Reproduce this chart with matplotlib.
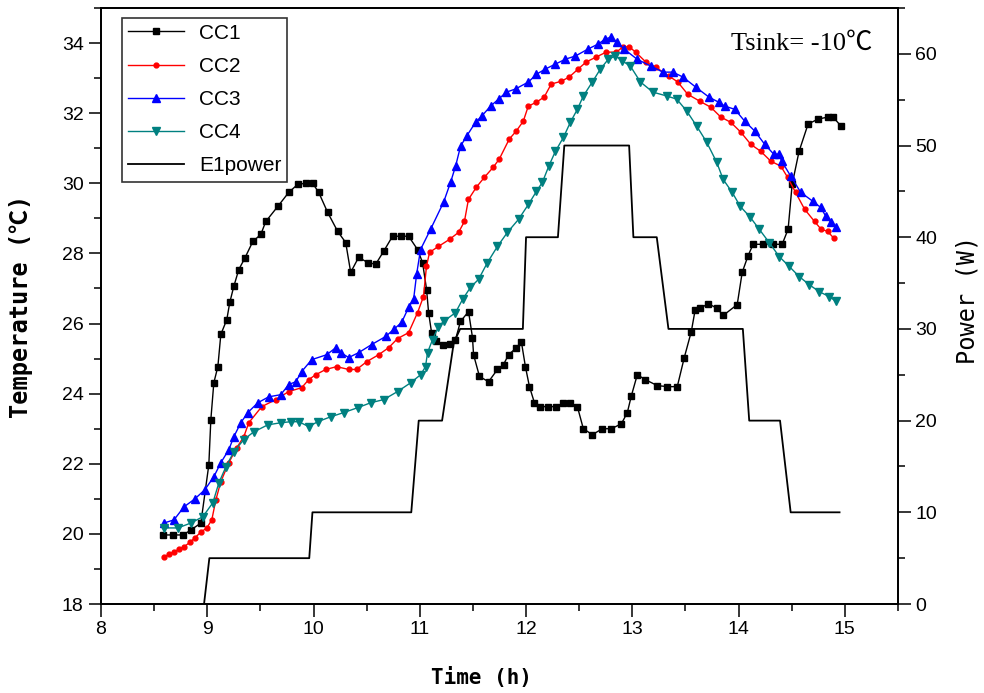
import matplotlib
matplotlib.use("Agg")
from matplotlib import pyplot as plt
from matplotlib.ticker import MultipleLocator

# CC1 thermocouple (black squares)
cc1_t = [8.583, 8.677, 8.771, 8.846, 8.940, 9.015, 9.034, 9.062, 9.100, 9.128,
         9.184, 9.212, 9.250, 9.297, 9.353, 9.429, 9.504, 9.551, 9.664, 9.767,
         9.852, 9.927, 9.992, 10.049, 10.133, 10.227, 10.303, 10.350, 10.425, 10.509,
         10.585, 10.660, 10.744, 10.820, 10.895, 10.979, 11.026, 11.064, 11.083, 11.111,
         11.148, 11.214, 11.280, 11.336, 11.383, 11.459, 11.496, 11.506, 11.562, 11.647,
         11.731, 11.788, 11.835, 11.910, 11.957, 11.994, 12.032, 12.079, 12.135, 12.211,
         12.286, 12.352, 12.417, 12.483, 12.539, 12.624, 12.718, 12.803, 12.897, 12.953,
         12.991, 13.047, 13.122, 13.235, 13.329, 13.423, 13.489, 13.555, 13.592, 13.639,
         13.714, 13.799, 13.855, 13.987, 14.034, 14.090, 14.137, 14.231, 14.325, 14.410,
         14.466, 14.504, 14.569, 14.654, 14.748, 14.842, 14.889, 14.964]
cc1_T = [19.97, 19.97, 19.97, 20.11, 20.31, 21.97, 23.26, 24.31, 24.77, 25.69,
         26.11, 26.60, 27.06, 27.54, 27.86, 28.34, 28.54, 28.91, 29.34, 29.74,
         29.97, 30.00, 30.00, 29.74, 29.17, 28.63, 28.31, 27.46, 27.89, 27.74,
         27.69, 28.06, 28.49, 28.49, 28.49, 28.11, 27.74, 26.97, 26.31, 25.74,
         25.49, 25.40, 25.43, 25.54, 26.06, 26.34, 25.60, 25.11, 24.49, 24.34,
         24.69, 24.83, 25.11, 25.31, 25.46, 24.77, 24.20, 23.74, 23.63, 23.63,
         23.63, 23.74, 23.74, 23.63, 23.00, 22.83, 23.00, 23.00, 23.14, 23.46,
         23.94, 24.54, 24.40, 24.23, 24.20, 24.20, 25.03, 25.77, 26.40, 26.43,
         26.57, 26.43, 26.23, 26.54, 27.46, 27.94, 28.26, 28.26, 28.26, 28.26,
         28.69, 29.97, 30.91, 31.69, 31.83, 31.89, 31.89, 31.63]

# CC2 (red circles)
cc2_t = [8.593, 8.640, 8.687, 8.733, 8.781, 8.837, 8.884, 8.940, 8.996, 9.043,
         9.081, 9.128, 9.203, 9.278, 9.344, 9.391, 9.513, 9.645, 9.767, 9.889,
         9.955, 10.021, 10.115, 10.218, 10.331, 10.406, 10.500, 10.613, 10.707, 10.791,
         10.895, 10.979, 11.035, 11.063, 11.092, 11.176, 11.280, 11.365, 11.420, 11.458,
         11.533, 11.608, 11.692, 11.748, 11.842, 11.908, 11.974, 12.021, 12.096, 12.171,
         12.237, 12.331, 12.406, 12.491, 12.566, 12.660, 12.754, 12.848, 12.914, 12.970,
         13.032, 13.126, 13.220, 13.344, 13.427, 13.521, 13.635, 13.738, 13.832, 13.926,
         14.020, 14.115, 14.209, 14.303, 14.397, 14.461, 14.536, 14.621, 14.715, 14.776,
         14.837, 14.897]
cc2_T = [19.34, 19.42, 19.49, 19.56, 19.63, 19.76, 19.89, 20.05, 20.17, 20.40,
         20.97, 21.49, 22.03, 22.46, 22.77, 23.17, 23.63, 23.83, 24.06, 24.17,
         24.40, 24.54, 24.69, 24.77, 24.69, 24.69, 24.91, 25.11, 25.31, 25.57,
         25.74, 26.31, 26.77, 27.63, 28.03, 28.20, 28.40, 28.60, 28.91, 29.54,
         29.89, 30.17, 30.46, 30.69, 31.26, 31.49, 31.77, 32.20, 32.31, 32.46,
         32.83, 32.91, 33.03, 33.26, 33.46, 33.60, 33.74, 33.74, 33.89, 33.89,
         33.74, 33.46, 33.31, 33.06, 32.89, 32.54, 32.34, 32.17, 31.89, 31.74,
         31.46, 31.11, 30.91, 30.63, 30.49, 30.17, 29.74, 29.26, 28.91, 28.69,
         28.63, 28.43]

# CC3 (blue up-triangles)
cc3_t = [8.593, 8.687, 8.781, 8.884, 8.978, 9.062, 9.128, 9.203, 9.250, 9.316,
         9.382, 9.476, 9.579, 9.692, 9.767, 9.833, 9.889, 9.983, 10.124, 10.209,
         10.256, 10.331, 10.425, 10.547, 10.679, 10.754, 10.829, 10.895, 10.942, 10.970,
         11.007, 11.102, 11.224, 11.290, 11.337, 11.384, 11.440, 11.525, 11.581, 11.666,
         11.741, 11.816, 11.901, 12.023, 12.098, 12.183, 12.277, 12.371, 12.465, 12.584,
         12.678, 12.744, 12.800, 12.856, 12.922, 13.044, 13.175, 13.288, 13.382, 13.476,
         13.598, 13.720, 13.814, 13.870, 13.964, 14.058, 14.152, 14.246, 14.331, 14.378,
         14.406, 14.491, 14.585, 14.697, 14.773, 14.820, 14.867, 14.915]
cc3_T = [20.31, 20.40, 20.77, 21.00, 21.26, 21.63, 22.03, 22.40, 22.77, 23.17,
         23.46, 23.74, 23.91, 23.97, 24.26, 24.34, 24.63, 24.97, 25.11, 25.31,
         25.17, 25.03, 25.17, 25.40, 25.63, 25.83, 26.03, 26.46, 26.69, 27.40,
         28.11, 28.69, 29.46, 30.03, 30.49, 31.06, 31.34, 31.74, 31.91, 32.20,
         32.40, 32.60, 32.69, 32.89, 33.11, 33.26, 33.40, 33.54, 33.63, 33.83,
         33.97, 34.11, 34.17, 34.03, 33.83, 33.54, 33.34, 33.17, 33.17, 33.03,
         32.74, 32.46, 32.31, 32.20, 32.11, 31.77, 31.49, 31.11, 30.83, 30.83,
         30.63, 30.20, 29.74, 29.49, 29.31, 29.06, 28.89, 28.74]

# CC4 (teal down-triangles)
cc4_t = [8.593, 8.724, 8.846, 8.959, 9.053, 9.110, 9.175, 9.250, 9.344, 9.438,
         9.570, 9.692, 9.786, 9.861, 9.955, 10.040, 10.162, 10.284, 10.416, 10.538,
         10.660, 10.791, 10.914, 11.008, 11.054, 11.073, 11.120, 11.176, 11.224, 11.336,
         11.403, 11.477, 11.553, 11.637, 11.731, 11.825, 11.929, 12.023, 12.098, 12.154,
         12.214, 12.276, 12.352, 12.417, 12.483, 12.539, 12.624, 12.700, 12.775, 12.841,
         12.906, 12.982, 13.076, 13.193, 13.324, 13.418, 13.512, 13.606, 13.700, 13.794,
         13.855, 13.940, 14.016, 14.110, 14.194, 14.288, 14.382, 14.476, 14.570, 14.664,
         14.758, 14.852, 14.918]
cc4_T = [20.17, 20.17, 20.31, 20.49, 20.89, 21.46, 21.91, 22.34, 22.69, 22.91,
         23.11, 23.17, 23.20, 23.20, 23.06, 23.20, 23.34, 23.46, 23.60, 23.74,
         23.83, 24.06, 24.31, 24.54, 24.77, 25.17, 25.54, 25.91, 26.06, 26.31,
         26.69, 27.03, 27.26, 27.74, 28.20, 28.60, 28.97, 29.40, 29.77, 30.03,
         30.49, 30.91, 31.31, 31.74, 32.11, 32.49, 32.89, 33.26, 33.54, 33.63,
         33.49, 33.34, 32.89, 32.60, 32.49, 32.40, 32.06, 31.63, 31.17, 30.60,
         30.11, 29.74, 29.34, 29.03, 28.69, 28.31, 27.91, 27.63, 27.34, 27.11,
         26.91, 26.77, 26.63]

# heater power E1 (right axis)
pow_t = [8.97, 9.02, 9.96, 9.99, 10.92, 10.99, 11.21, 11.32, 11.38, 11.97,
         12.00, 12.30, 12.36, 12.97, 13.01, 13.23, 13.34, 14.04, 14.10, 14.39,
         14.49, 14.95]
pow_W = [0, 5, 5, 10, 10, 20, 20, 28.5, 30, 30,
         40, 40, 50, 50, 40, 40, 30, 30, 20, 20,
         10, 10]

mono = ['DejaVu Sans Mono', 'Noto Sans CJK SC']
serif = ['Liberation Serif', 'Noto Sans CJK SC']
plt.rcParams['font.family'] = ['Liberation Sans', 'DejaVu Sans']

fig = plt.figure(figsize=(9.84, 6.93), dpi=100)
ax = fig.add_axes([0.1026, 0.1284, 0.8100, 0.8601])
ax2 = ax.twinx()

ax.plot(cc1_t, cc1_T, color='black', lw=1.0, marker='s', ms=4.5, label='CC1')
ax.plot(cc2_t, cc2_T, color='red', lw=1.0, marker='o', ms=3.5, label='CC2')
ax.plot(cc3_t, cc3_T, color='blue', lw=1.0, marker='^', ms=6, label='CC3')
ax.plot(cc4_t, cc4_T, color='#008080', lw=1.0, marker='v', ms=6, label='CC4')
l5, = ax2.plot(pow_t, pow_W, color='black', lw=1.3, label='E1power')

ax.set_xlim(8, 15.5)
ax.set_ylim(18, 35)
ax2.set_ylim(0, 65)

ax.xaxis.set_major_locator(MultipleLocator(1))
ax.xaxis.set_minor_locator(MultipleLocator(0.5))
ax.yaxis.set_major_locator(MultipleLocator(2))
ax.yaxis.set_minor_locator(MultipleLocator(1))
ax2.yaxis.set_major_locator(MultipleLocator(10))
ax2.yaxis.set_minor_locator(MultipleLocator(5))

for a in (ax, ax2):
    a.tick_params(which='major', direction='out', length=9, width=1.1, labelsize=14)
    a.tick_params(which='minor', direction='out', length=5, width=1.1)
    for s in a.spines.values():
        s.set_linewidth(1.3)
ax.tick_params(which='both', top=False, right=False)
ax2.tick_params(which='both', left=False)

ax.set_xlabel('Time (h)', fontsize=15, fontweight='bold', family=mono)
ax.xaxis.set_label_coords(0.478, -0.106)
ax.set_ylabel('Temperature (℃)', fontsize=17, fontweight='bold', family=mono)
ax.yaxis.set_label_coords(-0.085, 0.50)
ax2.set_ylabel('Power (W)', fontsize=17, family=mono)
ax2.yaxis.set_label_coords(1.072, 0.51)

ax.text(0.968, 0.94, 'Tsink= -10℃', transform=ax.transAxes, ha='right', va='center',
        fontsize=19, family=serif)

h, lab = ax.get_legend_handles_labels()
leg = ax.legend(h + [l5], lab + ['E1power'], loc='upper left', bbox_to_anchor=(0.026, 0.984),
                fontsize=15, frameon=True, fancybox=False, edgecolor='black',
                borderpad=0.3, labelspacing=0.68, handlelength=2.7, handletextpad=0.7,
                borderaxespad=0.0)
leg.get_frame().set_linewidth(1.2)

fig.savefig('out.png', dpi=100)
